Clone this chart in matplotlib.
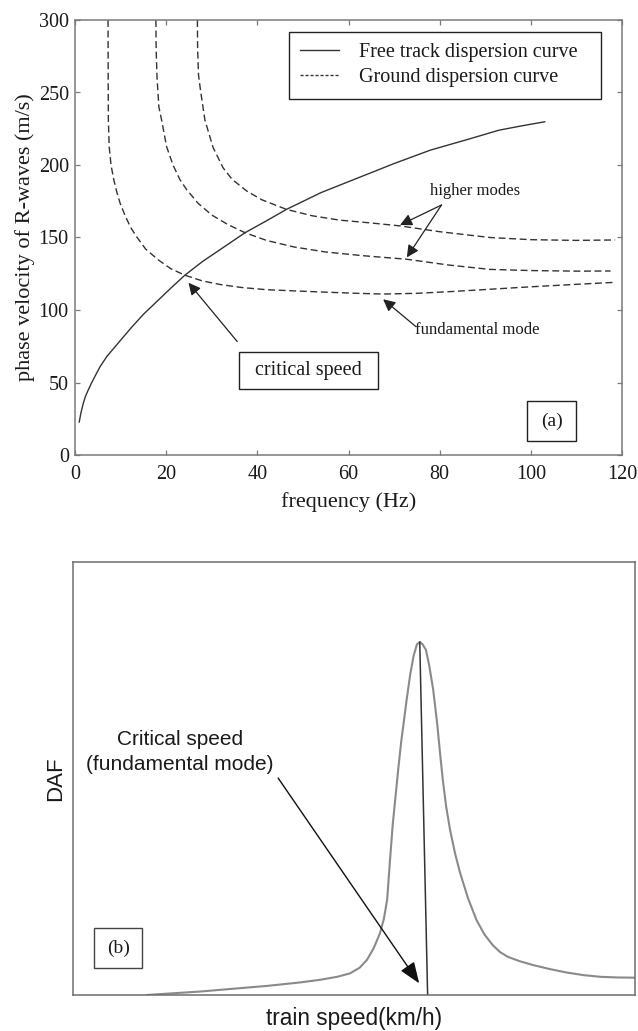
import matplotlib
matplotlib.use("Agg")
import matplotlib.pyplot as plt
from matplotlib.patches import Rectangle
from matplotlib.lines import Line2D

# ---------------- data: panel (a) ----------------
track_f = [0.9, 1.3, 1.8, 2.3, 2.9, 3.6, 4.5, 5.5, 7.0, 8.8, 10.5, 12.4, 15.0, 18.3, 21.0, 24.1,
           28.0, 32.0, 37.3, 42.0, 46.4, 54.0, 62.0, 70.0, 78.0, 86.0, 93.0, 98.0, 103.2]
track_v = [22.3, 29.0, 35.5, 40.5, 44.8, 49.5, 55.0, 60.9, 68.0, 74.7, 81.0, 88.0, 97.0, 106.9,
           115.0, 124.0, 133.5, 142.0, 153.3, 161.5, 169.4, 181.0, 191.0, 201.0, 210.3, 217.5,
           224.0, 227.0, 229.9]

fund_f = [7.25, 7.28, 7.32, 7.5, 7.9, 8.5, 9.2, 9.9, 11.0, 12.2, 13.5, 15.5, 18.3, 21.0, 24.1,
          28.0, 32.0, 36.6, 42.0, 48.0, 55.0, 62.0, 67.6, 75.0, 83.0, 91.0, 100.0, 110.0, 118.5]
fund_v = [300, 260, 231, 212.6, 200, 190, 181, 173.6, 165, 157, 150.6, 142, 134.5, 128.5, 124,
          120, 117.5, 115.5, 114, 113.2, 112.3, 111.5, 111, 111.5, 112.8, 114.3, 116, 117.7, 119.1]

mode2_f = [17.75, 17.8, 18.0, 18.4, 19.0, 20.1, 21.5, 23.0, 24.5, 27.0, 30.0, 33.5, 37.3, 42.0,
           48.0, 55.0, 63.0, 72.8, 82.0, 91.0, 100.0, 110.0, 117.5]
mode2_v = [300, 280, 260, 240, 231, 212.6, 200, 190, 183, 173.6, 165.5, 159, 153.3, 148,
           143.5, 140, 137.5, 135, 131, 128, 127.2, 126.8, 126.9]

mode3_f = [26.85, 26.9, 27.1, 27.6, 28.5, 30.3, 32.5, 34.5, 37.7, 41.0, 46.4, 52.0, 58.0, 65.0,
           71.3, 80.0, 91.0, 100.0, 110.0, 118.5]
mode3_v = [300, 280, 262, 250, 231, 212, 198, 190, 182, 176, 169.4, 165, 162, 160,
           158, 154, 150, 148.5, 148, 148.3]

x_ticks = [0, 20, 40, 60, 80, 100, 120]
y_ticks = [0, 50, 100, 150, 200, 250, 300]

# ---------------- data: panel (b) (normalised units) ----------------
daf_x = [13.1, 22.6, 34.5, 40.4, 43.9, 47.0, 49.3, 51.0, 52.3, 53.5, 54.6, 55.3, 55.9, 56.4,
         56.9, 57.4, 57.9, 58.4, 58.9, 59.4, 60.0, 60.6, 61.2, 61.7, 62.2, 62.8, 63.4, 64.1,
         64.8, 65.3, 65.8, 66.4, 67.1, 68.0, 68.9, 70.3, 71.8, 73.2, 74.7, 76.0, 77.4, 79.5,
         81.9, 84.8, 87.8, 90.8, 93.8, 96.9, 100.0]
daf_y = [0.0, 0.8, 2.1, 2.9, 3.5, 4.2, 5.0, 6.3, 8.1, 10.8, 14.2, 17.5, 22.0, 31.0,
         39.5, 46.0, 52.5, 58.5, 63.5, 68.5, 74.0, 78.3, 81.0, 81.5, 81.0, 79.7, 76.0, 70.4,
         62.7, 56.0, 49.7, 43.5, 38.1, 32.6, 28.1, 22.3, 17.3, 14.0, 11.5, 9.9, 8.8, 7.8,
         6.9, 6.0, 5.2, 4.6, 4.2, 4.05, 4.0]
peak_line_x = [61.7, 63.1]
peak_line_y = [81.5, 0.0]

SERIF = ['Liberation Serif', 'DejaVu Serif']
SANS = ['Liberation Sans', 'DejaVu Sans']
LINE = '#333333'
SPINE = '#7a7a7a'
TXT = '#1a1a1a'

fig = plt.figure(figsize=(6.38, 10.31), dpi=100)

# ================= panel (a) =================
ax = fig.add_axes([75/638, 1-455/1031, 547/638, 435/1031])
ax.plot(track_f, track_v, color=LINE, lw=1.0, solid_capstyle='butt')
for f, v in [(fund_f, fund_v), (mode2_f, mode2_v), (mode3_f, mode3_v)]:
    ax.plot(f, v, color=LINE, lw=1.0, dashes=(5, 2.6))
ax.set_xlim(0, 120)
ax.set_ylim(0, 300)
ax.set_xticks(x_ticks)
ax.set_yticks(y_ticks)
ax.tick_params(direction='in', top=True, right=True, length=3.6, width=0.9, color=SPINE,
               labelsize=14.5, labelcolor=TXT, pad=4.5)
ax.tick_params(axis='x', pad=7.5)
for lab in ax.get_xticklabels() + ax.get_yticklabels():
    lab.set_family(SERIF)
for s in ax.spines.values():
    s.set_color(SPINE)
    s.set_linewidth(1.1)
ax.set_xlabel('frequency (Hz)', family=SERIF, fontsize=16, color=TXT, labelpad=5.5)
ax.set_ylabel('phase velocity of R-waves (m/s)', family=SERIF, fontsize=16, color=TXT, labelpad=2.5)

handles = [Line2D([], [], color=LINE, lw=1.0),
           Line2D([], [], color=LINE, lw=1.0, dashes=(2.2, 1.4))]
leg = ax.legend(handles, ['Free track dispersion curve', 'Ground dispersion curve'],
                loc='upper left', bbox_to_anchor=(0.3918, 0.5, 0.5693, 0.472), mode='expand',
                borderaxespad=0,
                prop={'family': SERIF, 'size': 14.5}, frameon=True, fancybox=False,
                framealpha=1, edgecolor='#222222', handlelength=1.9, handletextpad=1.0,
                labelspacing=0.3, borderpad=0.55)
leg.get_frame().set_linewidth(1.0)
for t in leg.get_texts():
    t.set_color(TXT)

arrow_a = dict(arrowstyle='-|>,head_length=0.6,head_width=0.3', color='#222222', lw=0.9,
               shrinkA=0, shrinkB=0, mutation_scale=12)
ax.text(87.8, 182.3, 'higher modes', family=SERIF, fontsize=12, color=TXT, ha='center', va='center')
ax.annotate('', xy=(71.3, 158.6), xytext=(80.4, 172.4), arrowprops=arrow_a)
ax.annotate('', xy=(72.8, 136.3), xytext=(80.4, 172.4), arrowprops=arrow_a)
ax.text(74.6, 86.2, 'fundamental mode', family=SERIF, fontsize=12, color=TXT, ha='left', va='center')
ax.annotate('', xy=(67.6, 107.4), xytext=(74.8, 88.5), arrowprops=arrow_a)
ax.annotate('', xy=(24.9, 118.8), xytext=(35.6, 78.2), arrowprops=arrow_a)
ax.add_patch(Rectangle((36.0, 45.5), 30.5, 25.5, fill=True, fc='white', ec='#222222', lw=1.0, zorder=3))
ax.text(51.25, 58.0, 'critical speed', family=SERIF, fontsize=14.5, color=TXT,
        ha='center', va='center', zorder=4)
ax.add_patch(Rectangle((99.2, 9.7), 10.7, 27.5, fill=False, ec='#222222', lw=1.0, zorder=3))
ax.text(104.55, 23.2, '(a)', family=SERIF, fontsize=14, color=TXT, ha='center', va='center', zorder=4)

# ================= panel (b) =================
bx = fig.add_axes([73/638, 1-995/1031, 562/638, 433/1031])
bx.plot(daf_x, daf_y, color='#8a8a8a', lw=1.5)
bx.plot(peak_line_x, peak_line_y, color='#333333', lw=1.1)
bx.set_xlim(0, 100)
bx.set_ylim(0, 100)
bx.set_xticks([])
bx.set_yticks([])
for s in bx.spines.values():
    s.set_color('#6e6e6e')
    s.set_linewidth(1.1)
bx.set_xlabel('train speed(km/h)', family=SANS, fontsize=16.3, color=TXT, labelpad=9)
bx.set_ylabel('DAF', family=SANS, fontsize=16, color=TXT, labelpad=5)
bx.text(19.0, 56.1, 'Critical speed\n(fundamental mode)', family=SANS, fontsize=15, color=TXT,
        ha='center', va='center', linespacing=1.45)
bx.annotate('', xy=(61.6, 2.7), xytext=(36.5, 50.1),
            arrowprops=dict(arrowstyle='-|>,head_length=0.65,head_width=0.25', color='#111111',
                            lw=1.0, shrinkA=0, shrinkB=0, mutation_scale=20))
bx.add_patch(Rectangle((3.79, 6.3), 8.54, 9.1, fill=False, ec='#444444', lw=1.0))
bx.text(8.06, 10.85, '(b)', family=SERIF, fontsize=14, color=TXT, ha='center', va='center')

fig.savefig('out.png', dpi=100)
